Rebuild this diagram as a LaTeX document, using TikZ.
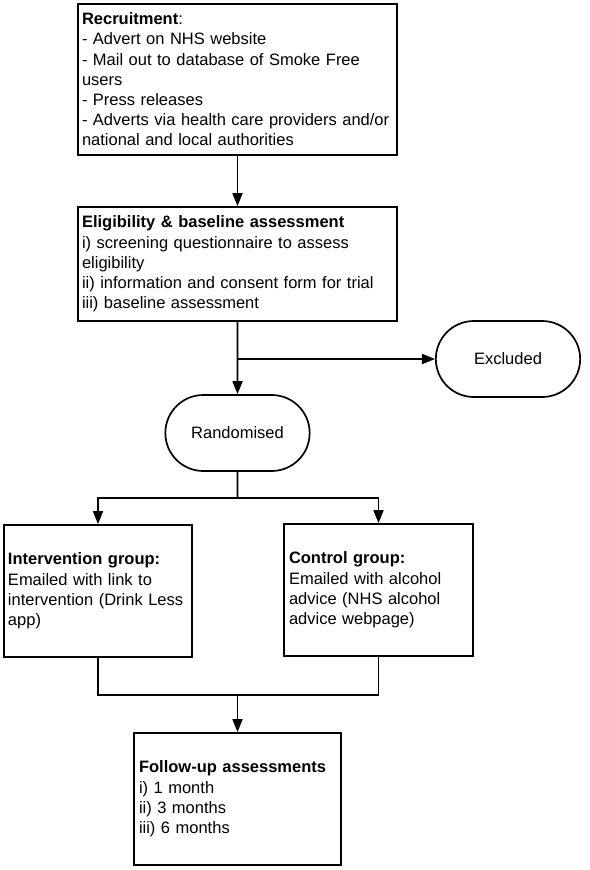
\documentclass[tikz,border=0pt]{standalone}
\usepackage{fontspec}
\setmainfont{Liberation Sans}
\usetikzlibrary{shapes.misc,arrows.meta,positioning}

\begin{document}
\begin{tikzpicture}[x=1pt,y=-1pt,
  font=\fontsize{16.5}{20.2}\selectfont,
  box/.style={draw,line width=1.7pt,rectangle,align=left,inner xsep=4pt,inner ysep=0pt},
  pill/.style={draw,line width=1.7pt,rounded rectangle,minimum width=151pt,minimum height=76pt},
  arr/.style={line width=1.7pt,-{Triangle[length=13pt,width=10pt]}},
  link/.style={line width=1.7pt}]
\useasboundingbox (0,0) rectangle (589,870);
% Boxes
\node[box,minimum height=151pt,text width=311pt] (recruit) at (237.5,79.5)
  {\textbf{Recruitment}:\\- Advert on NHS website\\- Mail out to database of Smoke Free\\users\\- Press releases\\- Adverts via health care providers and/or\\national and local authorities};
\node[box,minimum height=114pt,text width=311pt] (elig) at (237.5,264)
  {\textbf{Eligibility \& baseline assessment}\\i) screening questionnaire to assess\\eligibility\\ii) information and consent form for trial\\iii) baseline assessment};
\node[pill] (excl) at (508,359) {Excluded};
\node[pill] (rand) at (237.5,433) {Randomised};
\node[box,minimum height=132pt,text width=180pt] (interv) at (98,591)
  {\textbf{Intervention group:}\\Emailed with link to\\intervention (Drink Less\\app)};
\node[box,minimum height=132pt,text width=179pt,inner xsep=5pt] (ctrl) at (378.5,590)
  {\textbf{Control group:}\\Emailed with alcohol\\advice (NHS alcohol\\advice webpage)};
\node[box,minimum height=132pt,text width=197pt,inner xsep=5pt] (follow) at (237.5,799)
  {\textbf{Follow-up assessments}\\i) 1 month\\ii) 3 months\\iii) 6 months};
% Connectors
\coordinate (split) at (237.5,498);
\coordinate (join) at (237.5,695);
\draw[arr] (recruit) -- (elig);
\draw[arr] (elig) -- (rand);
\draw[arr] (elig.south |- excl.west) -- (excl.west);
\draw[link] (rand) -- (split);
\draw[arr] (split) -| (interv);
\draw[arr] (split) -| (ctrl);
\draw[link] (interv) |- (join);
\draw[link] (ctrl) |- (join);
\draw[arr] (join) -- (follow);
\end{tikzpicture}
\end{document}
